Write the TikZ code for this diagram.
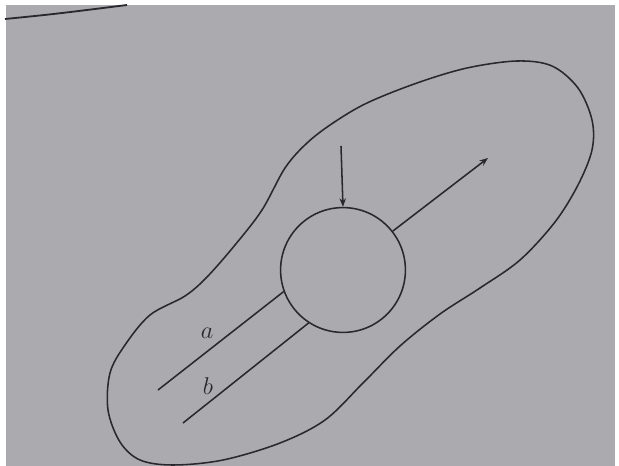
\documentclass[tikz,border=0pt]{standalone}
\usepackage{xcolor}
\usepackage{tikz}
\usetikzlibrary{arrows.meta}

\definecolor{paper}{RGB}{170,170,175}
\definecolor{ink}{RGB}{40,40,46}

\begin{document}
\begin{tikzpicture}[x=0.025cm,y=-0.025cm,line width=1.1pt,draw=ink,>={Stealth[length=6pt,width=4.6pt]}]
      \tikzstyle{every pore}=[circle,draw=ink,line width=1.1pt,minimum size=3.12cm,inner sep=0pt]
      \tikzstyle{every label}=[text=ink,font=\fontsize{17}{20}\selectfont]

      % Sheet of paper
      \useasboundingbox (0,0) rectangle (619,466);
      \fill[white] (0,0) rectangle (619,466);
      \fill[paper] (6,5) rectangle (615,466);
      \draw[line width=1.3pt] (5,19) .. controls (55,14) .. (127,5);

      % Outline of the region
      \draw[line width=1.1pt] plot[smooth cycle,tension=0.55] coordinates {
        (417,83) (467,68) (517,61) (552,66) (578,88) (592,120) (592,150)
        (578,185) (555,222) (520,260) (480,288) (440,314) (400,346)
        (363,383) (325,420) (280,443) (223,460) (173,465) (140,460)
        (120,442) (108,410) (110,373) (125,345) (150,315) (185,296)
        (207,277) (235,245) (262,210) (285,168) (307,143) (333,123)
        (367,103)};

      % Circle
      \node[every pore] (C) at (343,270) {};

      % Free ends
      \coordinate (In) at (341,146);
      \coordinate (Out) at (488,158);
      \coordinate (A) at (158,390);
      \coordinate (B) at (183,423);

      % Connections
      \draw[->] (In) -- (C.north);
      \draw[->] (C.38) -- (Out);
      \draw (A) -- (C.200);
      \draw (B) -- (C.237);

      % Labels
      \node[every label] (La) at (207,333) {$a$};
      \node[every label] (Lb) at (208,386) {$b$};
    \end{tikzpicture}
\end{document}
